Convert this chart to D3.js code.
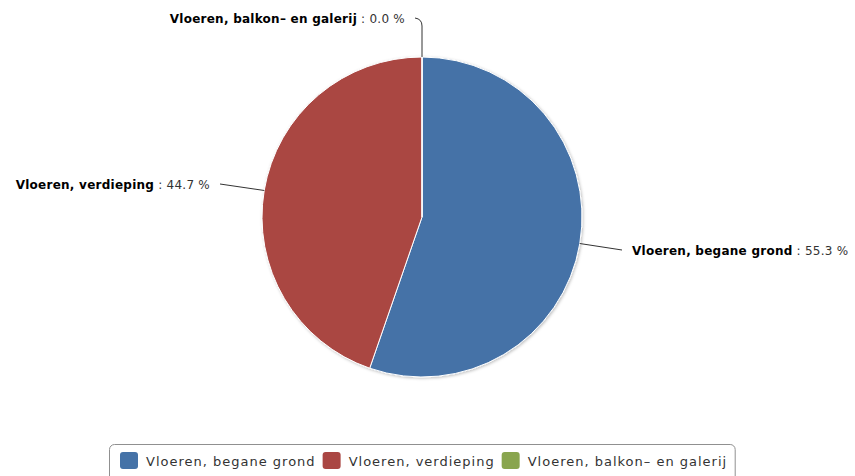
<!DOCTYPE html>
<html>
<head>
<meta charset="utf-8">
<script src="https://cdn.jsdelivr.net/npm/d3@7"></script>
<style>
  body { margin: 0; background: #fff; }
  svg { display: block; font-family: "DejaVu Sans", Verdana, sans-serif; }
</style>
</head>
<body>
<svg id="chart"></svg>
<script>
var width = 855, height = 476;
var categories = ["Vloeren, begane grond", "Vloeren, verdieping", "Vloeren, balkon- en galerij"];
var values = [55.3, 44.7, 0.0];
var colors = ["#4572A7", "#AA4643", "#89A54E"];

var cx = 422, cy = 217, radius = 160;

var svg = d3.select("#chart").attr("width", width).attr("height", height);

var defs = svg.append("defs");
var f = defs.append("filter").attr("id", "shadow")
    .attr("x", "-10%").attr("y", "-10%").attr("width", "120%").attr("height", "120%");
f.append("feDropShadow").attr("dx", 1).attr("dy", 1).attr("stdDeviation", 1.5)
    .attr("flood-color", "#000").attr("flood-opacity", 0.25);

var data = categories.map(function(c, i) { return {name: c, value: values[i], color: colors[i]}; });

var pie = d3.pie().sort(null).value(function(d) { return d.value; });
var arc = d3.arc().innerRadius(0).outerRadius(radius);
var arcs = pie(data);

var g = svg.append("g").attr("transform", `translate(${cx},${cy})`);

g.append("g").attr("filter", "url(#shadow)")
  .selectAll("path")
  .data(arcs)
  .enter()
  .append("path")
  .attr("d", arc)
  .attr("fill", function(d) { return d.data.color; })
  .attr("stroke", "#fff")
  .attr("stroke-width", 1)
  .attr("stroke-linejoin", "round");

// where each label's connector ends, relative to the centre
var labelPos = [
  {side: "right", lx: 200, ly: 33},
  {side: "left",  lx: -202, ly: -33},
  {side: "left",  lx: -7, ly: -199}
];

arcs.forEach(function(a, i) {
  var mid = (a.startAngle + a.endAngle) / 2;
  var px = Math.sin(mid) * radius, py = -Math.cos(mid) * radius;
  var lp = labelPos[i];
  var p = d3.path();
  p.moveTo(px, py);
  if (i === 2) {
    p.lineTo(px, lp.ly + 8);
    p.quadraticCurveTo(px, lp.ly + 1, lp.lx, lp.ly);
  } else {
    p.lineTo(lp.lx, lp.ly);
  }
  g.append("path").attr("d", p.toString())
    .attr("fill", "none").attr("stroke", "#333").attr("stroke-width", 1);

  var t = g.append("text")
    .attr("x", lp.side === "right" ? lp.lx + 10 : lp.lx - 10)
    .attr("y", lp.ly + 5)
    .attr("text-anchor", lp.side === "right" ? "start" : "end")
    .style("font-size", "12px")
    .style("letter-spacing", "0.25px");
  t.append("tspan").attr("font-weight", "bold").attr("fill", "#000").text(a.data.name.replace("-", "\u2013"));
  t.append("tspan").attr("fill", "#333").text(" : " + d3.format(".1f")(a.data.value) + " %");
});

// legend
var legend = svg.append("g");
var box = legend.append("rect")
  .attr("rx", 5).attr("ry", 5)
  .attr("fill", "#fff").attr("stroke", "#909090").attr("stroke-width", 1);

var x = 120;
data.forEach(function(d) {
  var it = legend.append("g").attr("transform", `translate(${x},452)`);
  it.append("rect").attr("width", 18).attr("height", 17).attr("rx", 3)
    .attr("fill", d.color);
  var tx = it.append("text").attr("x", 26).attr("y", 14)
    .style("font-size", "13px").style("letter-spacing", "1px").attr("fill", "#333")
    .text(d.name.replace("-", "\u2013"));
  x += 26 + tx.node().getComputedTextLength() + 7;
});
box.attr("x", 109.5).attr("y", 444.5).attr("width", x - 7 + 8 - 109.5).attr("height", 40);
</script>
</body>
</html>
